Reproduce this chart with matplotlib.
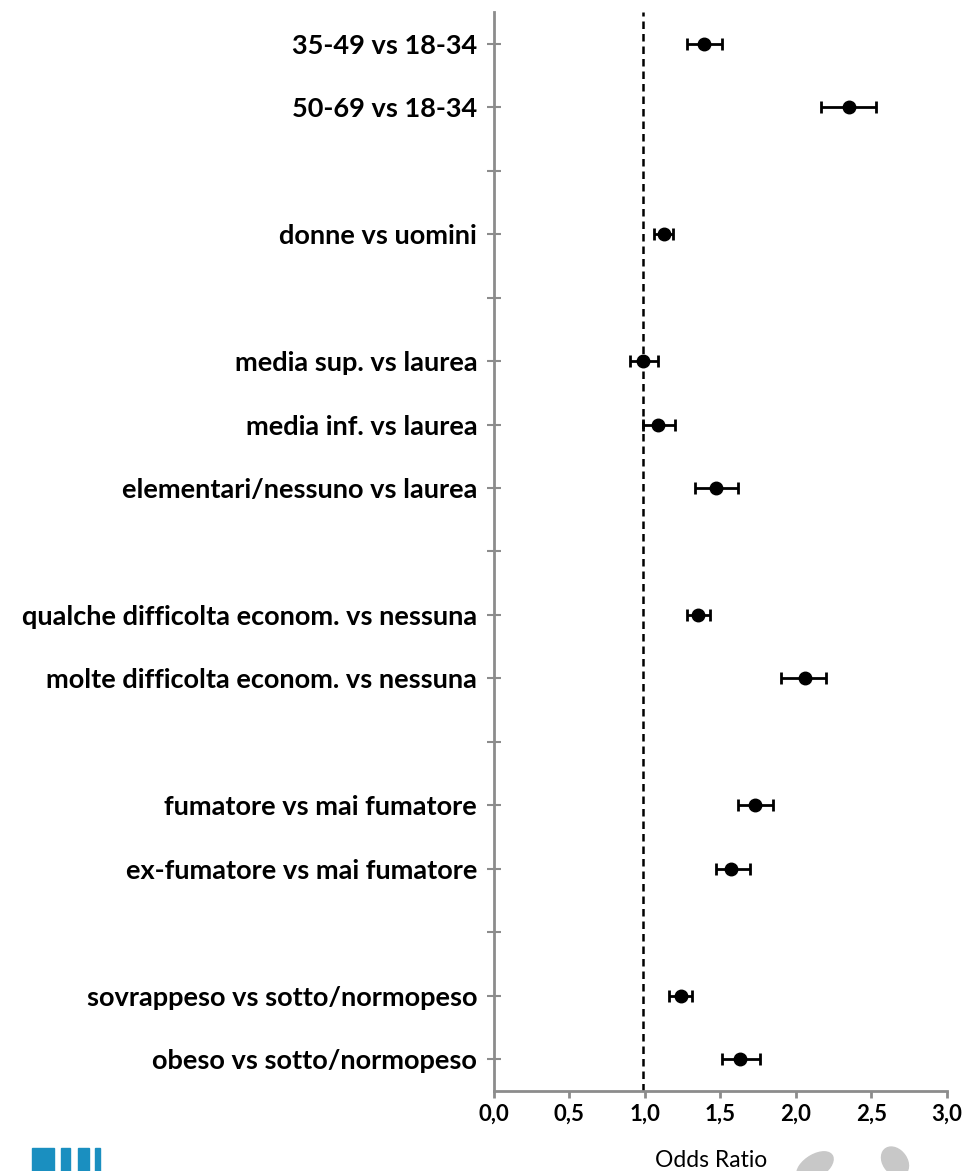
import matplotlib
matplotlib.use('Agg')
import matplotlib.pyplot as plt
from matplotlib.patches import Rectangle, Ellipse

# odds ratios (None = empty spacer row)
labels = [
    '35-49 vs 18-34', '50-69 vs 18-34', '',
    'donne vs uomini', '',
    'media sup. vs laurea', 'media inf. vs laurea', 'elementari/nessuno vs laurea', '',
    'qualche difficolta econom. vs nessuna', 'molte difficolta econom. vs nessuna', '',
    'fumatore vs mai fumatore', 'ex-fumatore vs mai fumatore', '',
    'sovrappeso vs sotto/normopeso', 'obeso vs sotto/normopeso',
]
odds = [1.39, 2.35, None, 1.13, None, 0.99, 1.09, 1.47, None,
        1.355, 2.06, None, 1.73, 1.57, None, 1.24, 1.63]
ci_low = [1.28, 2.17, None, 1.06, None, 0.905, 0.99, 1.33, None,
          1.28, 1.90, None, 1.62, 1.47, None, 1.16, 1.51]
ci_high = [1.51, 2.53, None, 1.19, None, 1.09, 1.20, 1.62, None,
           1.43, 2.20, None, 1.85, 1.70, None, 1.315, 1.76]
xticks = [0.0, 0.5, 1.0, 1.5, 2.0, 2.5, 3.0]
ref_line = 0.985

plt.rcParams['font.family'] = ['Lato', 'DejaVu Sans']

fig = plt.figure(figsize=(9.76, 11.71), dpi=100)
ax = fig.add_axes([0.506, 0.0683, 0.464, 0.9215])

n = len(labels)
ys = list(range(n))
for y, o, lo, hi in zip(ys, odds, ci_low, ci_high):
    if o is None:
        continue
    ax.errorbar(o, y, xerr=[[o - lo], [hi - o]], fmt='o', color='black',
                markersize=9, elinewidth=2, capsize=4.5, capthick=2)

ax.axvline(ref_line, color='black', linestyle=(0, (3, 2)), linewidth=1.8)

ax.set_ylim(n - 0.5, -0.5)
ax.set_xlim(0, 3.0)
ax.set_yticks(ys)
ax.set_yticklabels(labels, fontsize=19.5, fontweight='bold')
ax.set_xticks(xticks)
ax.set_xticklabels([f'{t:.1f}'.replace('.', ',') for t in xticks],
                   fontsize=16, fontweight='bold')

for s in ['top', 'right']:
    ax.spines[s].set_visible(False)
for s in ['left', 'bottom']:
    ax.spines[s].set_color('#8c8c8c')
    ax.spines[s].set_linewidth(2)
ax.tick_params(axis='y', direction='inout', length=10, width=1.5,
               color='#8c8c8c', pad=7)
ax.tick_params(axis='x', direction='out', length=5, width=2,
               color='#8c8c8c', pad=4)

fig.text(0.729, 0.0, 'Odds Ratio', fontsize=16.5, ha='center', va='bottom')

# bits of the logos cut at the bottom edge
for x0, w in [(0.033, 0.022), (0.062, 0.01), (0.08, 0.011), (0.097, 0.005)]:
    fig.patches.append(Rectangle((x0, 0.0), w, 0.02, transform=fig.transFigure,
                                 color='#1a8fc0'))
fig.patches.append(Ellipse((0.835, 0.004), 0.04, 0.02, angle=25,
                           transform=fig.transFigure, color='#c8c8c8'))
fig.patches.append(Ellipse((0.917, 0.008), 0.022, 0.03, angle=55,
                           transform=fig.transFigure, color='#c8c8c8'))

fig.savefig('out.png', dpi=100)
